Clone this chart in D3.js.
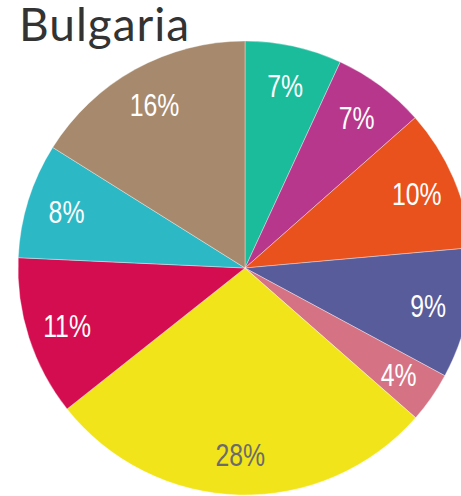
<!DOCTYPE html>
<html>
<head>
<meta charset="utf-8">
<script src="https://cdn.jsdelivr.net/npm/d3@7"></script>
<style>
  html, body { margin: 0; padding: 0; background: #fff; }
  svg { display: block; }
</style>
</head>
<body>
<div id="chart"></div>
<script>
// slice data, clockwise from 12 o'clock
const categories = ['A', 'B', 'C', 'D', 'E', 'F', 'G', 'H', 'I'];
const shares = [6.9, 6.6, 10.1, 9.3, 3.6, 27.9, 11.4, 8.2, 16.1];
const sliceColors = ['#1abc9c', '#b7378d', '#e9511d', '#585c9a', '#d57385',
                     '#f1e41b', '#d40d50', '#2db8c6', '#a78a6d'];
const title = 'Bulgaria';

const width = 461;
const height = 496;
const cx = 245;
const cy = 268;
const radius = 227;
const labelRadius = 187;

const svg = d3.select('#chart')
  .append('svg')
  .attr('width', width)
  .attr('height', height);

// title
svg.append('text')
  .attr('x', 19)
  .attr('y', 41)
  .style('font-family', 'Lato, "Open Sans", sans-serif')
  .style('font-size', '46px')
  .style('letter-spacing', '1px')
  .style('fill', '#333')
  .text(title);

const data = categories.map((c, i) => ({ name: c, value: shares[i], color: sliceColors[i] }));

const pie = d3.pie()
  .sort(null)
  .value(d => d.value);

const arc = d3.arc()
  .innerRadius(0)
  .outerRadius(radius);

const labelArc = d3.arc()
  .innerRadius(labelRadius)
  .outerRadius(labelRadius);

const total = d3.sum(shares);

const g = svg.append('g')
  .attr('transform', 'translate(' + cx + ',' + cy + ')');

const arcs = pie(data);

g.selectAll('path')
  .data(arcs)
  .join('path')
  .attr('d', arc)
  .attr('fill', d => d.data.color)
  .attr('stroke', 'rgba(255,255,255,0.6)')
  .attr('stroke-width', 0.6);

// labels are a condensed face in the original, so squeeze them horizontally
g.selectAll('text')
  .data(arcs)
  .join('text')
  .attr('transform', d => 'translate(' + labelArc.centroid(d) + ') scale(0.8,1)')
  .attr('text-anchor', 'middle')
  .attr('dy', '0.36em')
  .style('font-family', '"Liberation Sans", Arial, sans-serif')
  .style('font-size', '31px')
  .style('fill', d => d.data.color === '#f1e41b' ? '#6b6b6b' : '#fff')
  .text(d => Math.round(d.data.value / total * 100) + '%');
</script>
</body>
</html>
